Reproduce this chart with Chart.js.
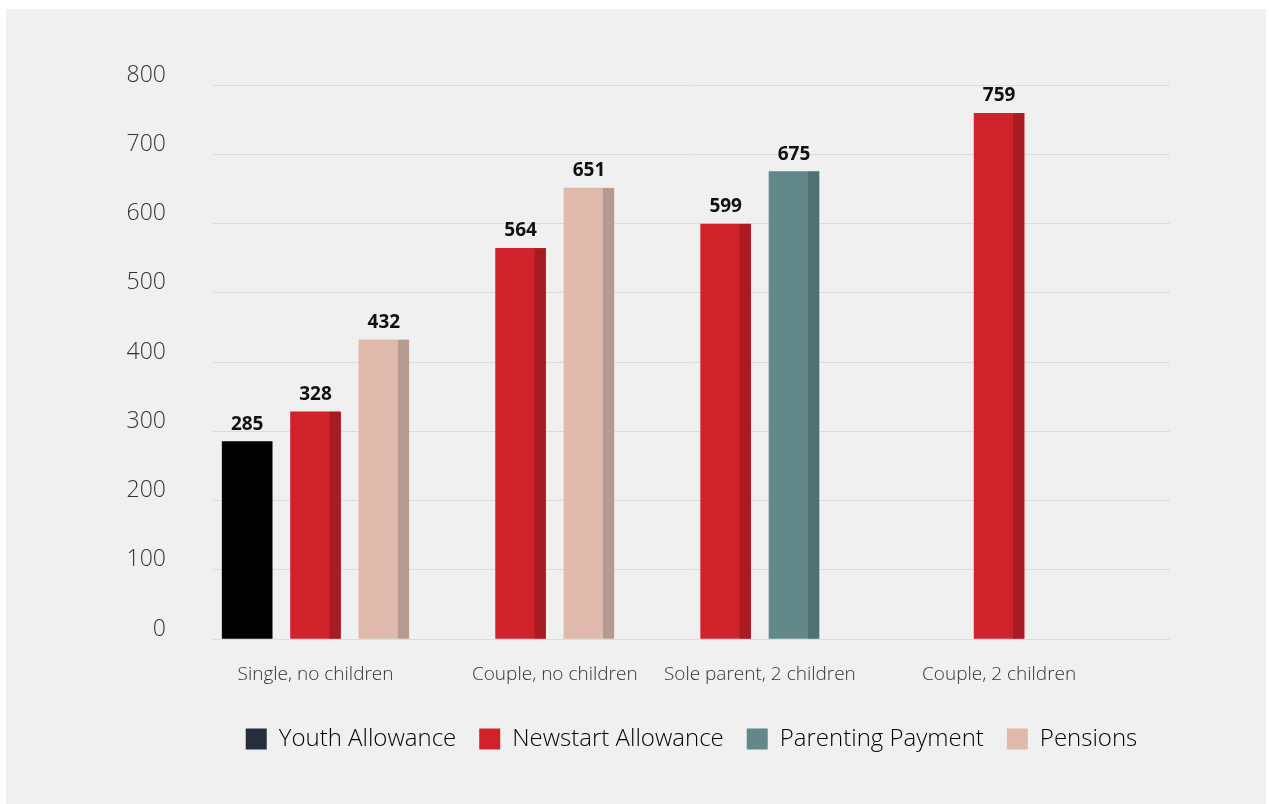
<!DOCTYPE html>
<html>
<head>
<meta charset="utf-8">
<script src="https://cdn.jsdelivr.net/npm/chart.js@4.4.1/dist/chart.umd.min.js"></script>
<style>
  html, body { margin: 0; padding: 0; background: #ffffff; }
  #panel { position: absolute; left: 6px; top: 9px; width: 1260px; height: 795px; background: #f0f0f0; }
</style>
</head>
<body>
<div id="panel"><canvas id="chart" width="1260" height="795"></canvas></div>
<script>
// data
const categories = ['Single, no children', 'Couple, no children', 'Sole parent, 2 children', 'Couple, 2 children']
const youthAllowance = [285, null, null, null]
const newstartAllowance = [328, 564, 599, 759]
const parentingPayment = [null, null, 675, null]
const pensions = [432, 651, null, null]
const yTicks = [0, 100, 200, 300, 400, 500, 600, 700, 800]

// layout: each bar sits in its own slot, groups start at these slots
const totalSlots = 14
const groupStart = [0, 4, 7, 11]

const series = [
    { label: 'Youth Allowance', values: youthAllowance, color: '#000000', side: null, legend: '#262e3d' },
    { label: 'Newstart Allowance', values: newstartAllowance, color: '#d0222a', side: '#a71b22', legend: '#d0222a' },
    { label: 'Parenting Payment', values: parentingPayment, color: '#628889', side: '#4f7170', legend: '#628889' },
    { label: 'Pensions', values: pensions, color: '#dfb9ab', side: '#b59a8f', legend: '#dfb9ab' }
]

// spread the grouped values out over the slots
const slotData = series.map(() => new Array(totalSlots).fill(null))
const labelPos = []
categories.forEach((cat, i) => {
    let slot = groupStart[i]
    let count = 0
    series.forEach((s, k) => {
        if (s.values[i] !== null) {
            slotData[k][slot] = s.values[i]
            slot++
            count++
        }
    })
    labelPos.push(groupStart[i] + count / 2)
})

const sideStrip = {
    id: 'sideStrip',
    afterDatasetsDraw(chart) {
        const ctx = chart.ctx
        ctx.save()
        chart.data.datasets.forEach((ds, k) => {
            const meta = chart.getDatasetMeta(k)
            meta.data.forEach((bar, j) => {
                if (ds.data[j] === null) return
                if (series[k].side) {
                    ctx.fillStyle = series[k].side
                    ctx.fillRect(bar.x + bar.width / 2 - 11, bar.y, 11, bar.base - bar.y)
                }
                ctx.fillStyle = '#111111'
                ctx.font = 'bold 19px "Open Sans"'
                ctx.textAlign = 'center'
                ctx.textBaseline = 'alphabetic'
                ctx.fillText(ds.data[j], bar.x, bar.y - 12)
            })
        })
        ctx.restore()
    }
}

new Chart(document.getElementById('chart'), {
    type: 'bar',
    data: {
        labels: slotData[0].map((v, i) => 'slot' + i),
        datasets: series.map((s, k) => ({
            label: s.label,
            data: slotData[k],
            backgroundColor: s.color,
            barThickness: 50,
            xAxisID: 'x'
        }))
    },
    plugins: [sideStrip],
    options: {
        responsive: false,
        animation: false,
        layout: { padding: { top: 76, right: 96, left: 0, bottom: 43 } },
        plugins: {
            tooltip: { enabled: false },
            legend: {
                position: 'bottom',
                fullSize: false,
                labels: {
                    boxWidth: 21,
                    boxHeight: 21,
                    padding: 23,
                    color: '#333333',
                    font: { family: '"Open Sans"', size: 24, weight: '300' },
                    generateLabels(chart) {
                        return series.map((s, k) => ({
                            text: s.label,
                            fillStyle: s.legend,
                            strokeStyle: s.legend,
                            lineWidth: 0,
                            hidden: false,
                            datasetIndex: k
                        }))
                    }
                }
            }
        },
        scales: {
            x: {
                type: 'category',
                stacked: true,
                display: false
            },
            x2: {
                type: 'linear',
                position: 'bottom',
                offset: false,
                min: 0,
                max: totalSlots,
                grid: { display: false, offset: false },
                border: { display: false },
                afterBuildTicks(scale) {
                    scale.ticks = labelPos.map(v => ({ value: v }))
                },
                afterFit(scale) {
                    scale.height = 65
                },
                ticks: {
                    autoSkip: false,
                    maxRotation: 0,
                    padding: 16,
                    color: '#333333',
                    font: { family: '"Open Sans"', size: 19, weight: '300' },
                    callback: v => categories[labelPos.indexOf(v)]
                }
            },
            y: {
                stacked: true,
                min: 0,
                max: 800,
                afterBuildTicks(scale) {
                    scale.ticks = yTicks.map(v => ({ value: v }))
                },
                afterFit(scale) {
                    scale.width = 207
                },
                grid: { color: '#dcdcdc', lineWidth: 1, drawTicks: false },
                border: { display: false },
                ticks: {
                    padding: 47,
                    labelOffset: -10,
                    color: '#333333',
                    font: { family: '"Open Sans"', size: 23, weight: '300' }
                }
            }
        }
    }
})
</script>
</body>
</html>
